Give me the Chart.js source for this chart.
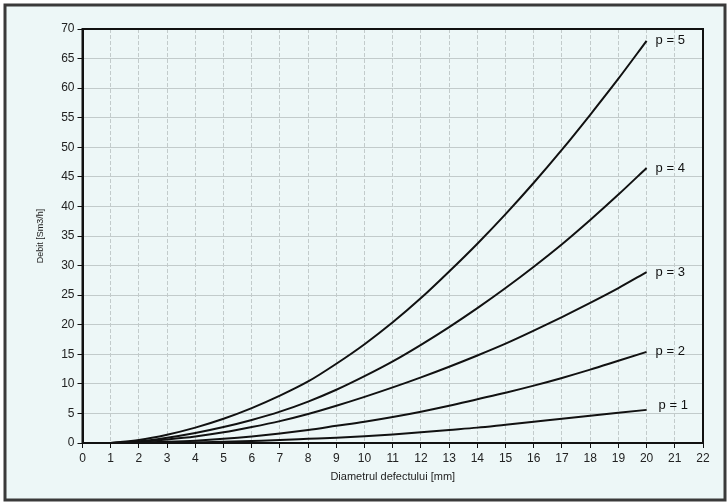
<!DOCTYPE html>
<html>
<head>
<meta charset="utf-8">
<script src="https://cdn.jsdelivr.net/npm/chart.js@4/dist/chart.umd.min.js"></script>
<style>
  html, body { margin: 0; padding: 0; background: #fff; }
  #wrap { width: 728px; height: 504px; }
</style>
</head>
<body>
<div id="wrap"><canvas id="debitChart" width="728" height="504"></canvas></div>
<script>
// Diameter of the defect [mm]
const diameters = [1, 2, 3, 4, 5, 6, 7, 8, 9, 10, 11, 12, 13, 14, 15, 16, 17, 18, 19, 20];

// Flow [Sm3/h] per pressure curve
const p1 = [0, 0.02, 0.05, 0.12, 0.2, 0.35, 0.5, 0.7, 0.9, 1.15, 1.45, 1.8, 2.2, 2.6, 3.1, 3.6, 4.1, 4.6, 5.1, 5.6];
const p2 = [0, 0.05, 0.2, 0.4, 0.7, 1.1, 1.6, 2.2, 2.9, 3.6, 4.4, 5.3, 6.3, 7.4, 8.5, 9.7, 11.0, 12.4, 13.9, 15.4];
const p3 = [0, 0.2, 0.6, 1.1, 1.8, 2.7, 3.7, 4.9, 6.3, 7.8, 9.4, 11.1, 12.9, 14.8, 16.8, 19.0, 21.3, 23.7, 26.2, 28.9];
const p4 = [0, 0.3, 0.9, 1.7, 2.7, 3.9, 5.3, 7.0, 9.0, 11.3, 13.8, 16.6, 19.6, 22.8, 26.2, 29.8, 33.6, 37.7, 42.0, 46.5];
const p5 = [0, 0.5, 1.4, 2.6, 4.1, 5.9, 8.0, 10.4, 13.4, 16.7, 20.4, 24.5, 29.0, 33.7, 38.7, 44.0, 49.6, 55.5, 61.6, 68.0];

const seriesNames = ['p = 1', 'p = 2', 'p = 3', 'p = 4', 'p = 5'];
const seriesValues = [p1, p2, p3, p4, p5];

const xTitle = 'Diametrul defectului [mm]';
const yTitle = 'Debit [Sm3/h]';

const FONT = "'Liberation Sans Narrow', 'Arial Narrow', 'Liberation Sans', sans-serif";

// frame + background
const framePlugin = {
  id: 'frame',
  beforeDraw(chart) {
    const c = chart.ctx;
    c.save();
    c.fillStyle = '#ffffff';
    c.fillRect(0, 0, chart.width, chart.height);
    c.fillStyle = '#edf7f7';
    c.fillRect(5, 5, 720, 495);
    c.strokeStyle = '#3a3a3a';
    c.lineWidth = 3;
    c.strokeRect(5, 5, 720, 495);
    c.restore();
  },
  afterDraw(chart) {
    const a = chart.chartArea;
    const c = chart.ctx;
    c.save();
    c.strokeStyle = '#111';
    c.lineWidth = 2;
    c.strokeRect(a.left, a.top, a.right - a.left, a.bottom - a.top);
    c.restore();
  }
};

// "p = n" labels at the end of each curve
const endLabels = {
  id: 'endLabels',
  afterDatasetsDraw(chart) {
    const c = chart.ctx;
    c.save();
    c.font = '13px ' + FONT;
    c.fillStyle = '#111';
    c.textBaseline = 'middle';
    chart.data.datasets.forEach((ds, i) => {
      const meta = chart.getDatasetMeta(i);
      const last = meta.data[meta.data.length - 1];
      const dx = i === 0 ? 12 : 9;
      const dy = i === 0 ? -4 : 0;
      c.fillText(ds.label, last.x + dx, last.y + dy);
    });
    c.restore();
  }
};

const ctx = document.getElementById('debitChart').getContext('2d');
new Chart(ctx, {
  type: 'line',
  data: {
    datasets: seriesValues.map((vals, i) => ({
      label: seriesNames[i],
      data: diameters.map((d, j) => ({ x: d, y: vals[j] })),
      borderColor: '#111',
      borderWidth: 2,
      pointRadius: 0,
      cubicInterpolationMode: 'monotone',
      fill: false
    }))
  },
  options: {
    responsive: false,
    animation: false,
    layout: { padding: { top: 29, right: 25, left: 0, bottom: 0 } },
    plugins: {
      legend: { display: false },
      tooltip: { enabled: false }
    },
    scales: {
      x: {
        type: 'linear',
        min: 0,
        max: 22,
        afterFit(scale) { scale.height = 61; },
        ticks: { stepSize: 1, color: '#222', padding: 3, font: { family: FONT, size: 12 } },
        grid: { color: '#c2cbcb', tickColor: '#111', tickLength: 5, lineWidth: 1 },
        border: { color: '#111', width: 2, dash: [4, 2] },
        title: {
          display: true,
          text: xTitle,
          color: '#222',
          font: { family: FONT, size: 11 },
          padding: { top: 4, bottom: 20 }
        }
      },
      y: {
        min: 0,
        max: 70,
        afterFit(scale) { scale.width = 82.5; },
        ticks: { stepSize: 5, color: '#222', padding: 3, font: { family: FONT, size: 12 } },
        grid: { color: '#c2cbcb', tickColor: '#111', tickLength: 5, lineWidth: 1 },
        border: { color: '#111', width: 2 },
        title: {
          display: true,
          text: yTitle,
          color: '#222',
          font: { family: FONT, size: 9 },
          padding: { top: 35, bottom: 0 }
        }
      }
    }
  },
  plugins: [framePlugin, endLabels]
});
</script>
</body>
</html>
